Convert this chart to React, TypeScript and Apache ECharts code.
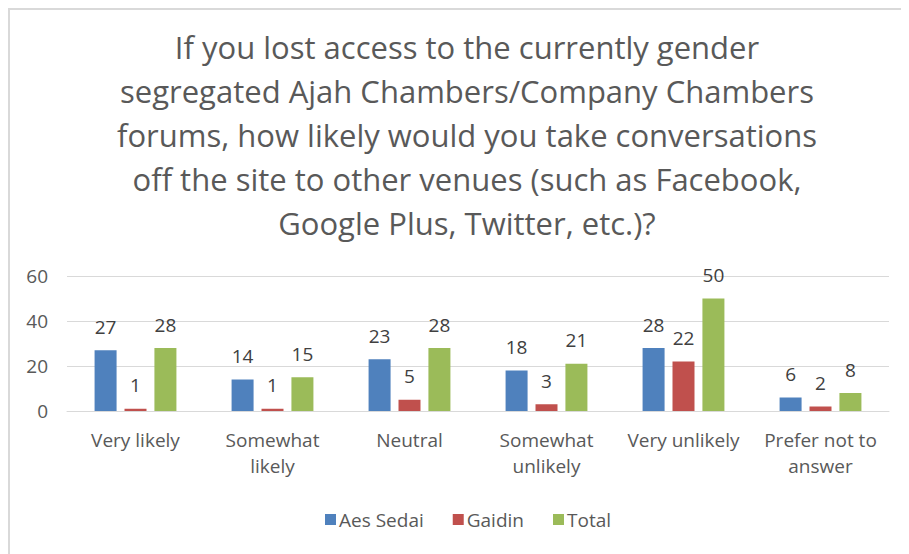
import React, { useEffect, useRef } from "react";
import * as echarts from "echarts";

const categories = [
  "Very likely",
  "Somewhat\nlikely",
  "Neutral",
  "Somewhat\nunlikely",
  "Very unlikely",
  "Prefer not to\nanswer",
];
const aesSedai = [27, 14, 23, 18, 28, 6];
const gaidin = [1, 1, 5, 3, 22, 2];
const total = [28, 15, 28, 21, 50, 8];
const yTicks = { min: 0, max: 60, interval: 20 };
const titleText =
  "If you lost access to the currently gender\nsegregated Ajah Chambers/Company Chambers\nforums, how likely would you take conversations\noff the site to other venues (such as Facebook,\nGoogle Plus, Twitter, etc.)?";

const FONT = "'Open Sans', Lato, sans-serif";
const TEXT = "#595959";

export default function App() {
  const ref = useRef<HTMLDivElement>(null);
  useEffect(() => {
    if (!ref.current) return;
    const chart = echarts.init(ref.current, undefined, { renderer: "svg" });
    const label = {
      show: true,
      position: "top" as const,
      distance: 14,
      color: "#404040",
      fontSize: 19,
      fontFamily: FONT,
    };
    chart.setOption({
      animation: false,
      backgroundColor: "#ffffff",
      textStyle: { fontFamily: FONT },
      title: {
        text: titleText,
        left: 454,
        top: 12,
        textAlign: "center",
        textStyle: {
          fontFamily: FONT,
          fontSize: 31,
          fontWeight: "normal",
          color: TEXT,
          lineHeight: 44,
        },
      },
      graphic: [
        {
          type: "line",
          shape: { x1: 1, y1: 1, x2: 1, y2: 546 },
          style: { stroke: "#d9d9d9", lineWidth: 2 },
        },
        {
          type: "line",
          shape: { x1: 0, y1: 1, x2: 901, y2: 1 },
          style: { stroke: "#d9d9d9", lineWidth: 2 },
        },
      ],
      legend: {
        top: 497,
        left: 312,
        itemWidth: 11,
        itemHeight: 11,
        itemGap: 29,
        icon: "rect",
        textStyle: { fontFamily: FONT, fontSize: 19, color: TEXT, padding: [0, 0, 0, -2] },
        data: ["Aes Sedai", "Gaidin", "Total"],
      },
      grid: { left: 59, right: 20, top: 268, bottom: 143, containLabel: false },
      xAxis: {
        type: "category",
        data: categories,
        axisLine: { lineStyle: { color: "#d9d9d9", width: 1 } },
        axisTick: { show: false },
        axisLabel: {
          color: TEXT,
          fontSize: 19,
          fontFamily: FONT,
          margin: 16,
          lineHeight: 26,
          interval: 0,
        },
      },
      yAxis: {
        type: "value",
        min: yTicks.min,
        max: yTicks.max,
        interval: yTicks.interval,
        axisLine: { show: false },
        axisTick: { show: false },
        splitLine: { lineStyle: { color: "#d9d9d9", width: 1 } },
        axisLabel: { color: TEXT, fontSize: 19, fontFamily: FONT, margin: 19 },
      },
      series: [
        {
          name: "Aes Sedai",
          type: "bar",
          data: aesSedai,
          itemStyle: { color: "#4f81bd" },
          barWidth: 22,
          barGap: "36%",
          label,
        },
        {
          name: "Gaidin",
          type: "bar",
          data: gaidin,
          itemStyle: { color: "#c0504d" },
          barWidth: 22,
          barGap: "36%",
          label,
        },
        {
          name: "Total",
          type: "bar",
          data: total,
          itemStyle: { color: "#9bbb59" },
          barWidth: 22,
          barGap: "36%",
          label,
        },
      ],
    });
    return () => chart.dispose();
  }, []);
  return <div ref={ref} style={{ width: 901, height: 546 }} />;
}
